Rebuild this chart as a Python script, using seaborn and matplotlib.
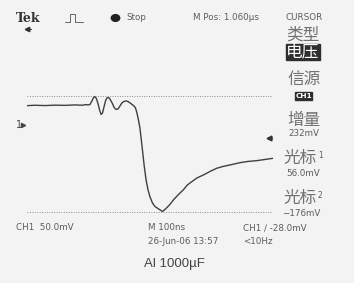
import matplotlib
matplotlib.use("Agg")
import matplotlib.pyplot as plt
import seaborn as sns
import pandas as pd
from matplotlib.lines import Line2D
from matplotlib.patches import Rectangle, Circle

# Captured waveform, CH1 (time in ns, voltage in mV)
time_ns = [560, 592, 633, 674, 714, 755, 784, 800, 808,
           816, 824, 830, 836, 842, 849, 855, 861, 867, 873, 879, 885, 891,
           897, 906, 914, 922, 930, 938, 946, 954, 962, 970, 979, 987, 995,
           1001, 1007, 1013, 1019, 1027, 1036, 1044, 1052, 1060, 1070, 1080,
           1092, 1111, 1125, 1141, 1155, 1174, 1195, 1212, 1230, 1251, 1277,
           1304, 1331, 1357, 1385, 1426, 1458, 1494, 1528, 1561]
volt_mv = [37.5, 38.3, 37.7, 38.5, 38.1, 39.0, 38.4, 39.6, 38.9,
           39.9, 47.0, 53.5, 56.0, 52.0, 41.0, 28.8, 19.8, 22.8, 34.9, 47.0, 53.1, 54.1,
           51.0, 43.0, 33.9, 29.9, 30.9, 36.9, 43.0, 46.0, 47.0, 46.0, 43.0, 39.9, 36.9,
           32.9, 22.8, 8.7, -7.3, -41.6, -82.0, -112.2, -132.4, -146.5, -158.8, -165.8,
           -169.9, -176.0, -169.9, -161.8, -152.7, -142.6, -132.5, -122.5, -115.8, -108.3, -102.3,
           -95.2, -88.8, -85.1, -82.1, -77.5, -75.0, -73.4, -71.0, -68.6]

cursor_mv = [56.0, -176.0]
delta_mv = 232
trigger_mv = -28.0
volts_per_div = "50.0mV"
time_per_div = "100ns"
horiz_pos = "1.060\u00b5s"
capture_date = "26-Jun-06 13:57"
trigger_freq = "<10Hz"
caption = "Al 1000\u00b5F"

BG = "#f3f3f3"
TXT = "#5c5c5c"
CJK_TXT = "#717171"
TRACE = "#3f3f3f"
W, H = 354, 283
SMALL = 6.3

sns.set_style("white")
plt.rcParams["font.family"] = ["Liberation Sans Narrow", "DejaVu Sans"]

fig = plt.figure(figsize=(W / 100, H / 100), dpi=100, facecolor=BG)


def fx(x):
    return x / W


def fy(y):
    return 1 - y / H


def label(x, y, s, size=SMALL, ha="left", color=TXT, **kw):
    fig.text(fx(x), fy(y), s, fontsize=size, ha=ha, va="center", color=color, **kw)


# Screen area: 10 x 8 divisions, 50 mV/div, 100 ns/div
ax = fig.add_axes([27 / W, 1 - 223.4 / H, 246 / W, 198.3 / H])
ax.set_facecolor(BG)
df = pd.DataFrame({"t": time_ns, "v": volt_mv})
sns.lineplot(data=df, x="t", y="v", ax=ax, color=TRACE, lw=1.0)
ax.set_xlim(560, 1560)
ax.set_ylim(-200, 200)
for c in cursor_mv:
    ax.axhline(c, xmax=0.995, color="#8c8c8c", lw=0.7, ls=(0, (1, 1.5)))
ax.axis("off")

# trigger level marker on the right edge
ax.plot([1543], [trigger_mv], marker="<", ms=3.5, color="#333333", clip_on=False)
ax.plot([1543, 1556], [trigger_mv, trigger_mv], color="#333333", lw=0.8, clip_on=False)

# channel 1 ground marker
label(15.5, 124.5, "1", size=7, color="#444444", family=["DejaVu Sans"])
fig.add_artist(Line2D([fx(23)], [fy(124.5)], marker=">", ms=3, color="#444444"))

# header
fig.text(fx(16), fy(18.5), "Tek", fontsize=9, fontweight="bold", family="DejaVu Serif",
         color="#333333", ha="left", va="center")
fig.add_artist(Line2D([fx(26.5)], [fy(29.3)], marker="<", ms=3.2, color="#333333"))
fig.add_artist(Line2D([fx(26.5), fx(31)], [fy(29.3), fy(29.3)], color="#333333", lw=0.8))
px = [65, 70, 70, 75, 75, 83]
py = [22, 22, 14, 14, 22, 22]
fig.add_artist(Line2D([fx(v) for v in px], [fy(v) for v in py], color="#666666", lw=0.7))
fig.add_artist(Circle((fx(115.5), fy(18)), radius=4.2 / W, color="#222222",
                      transform=fig.transFigure))
label(126, 18, "Stop")
label(193, 18, "M Pos: " + horiz_pos)

# side menu
CJK = ["Noto Sans CJK SC", "DejaVu Sans"]
label(286, 17, "CURSOR")
label(303, 35, "类型", size=12, ha="center", family=CJK, color=CJK_TXT, fontweight="light")
fig.add_artist(Rectangle((fx(286), fy(60)), 34 / W, 16 / H, color="#2e2e2e",
                         transform=fig.transFigure))
label(303, 52, "电压", size=12, ha="center", family=CJK, color="white")
label(304, 79, "信源", size=12, ha="center", family=CJK, color=CJK_TXT, fontweight="light")
fig.add_artist(Rectangle((fx(295), fy(100)), 17 / W, 8.5 / H, color="#2e2e2e",
                         transform=fig.transFigure))
label(303.5, 96, "CH1", size=5.3, ha="center", color="white", fontweight="bold")
label(304, 120, "增量", size=12, ha="center", family=CJK, color=CJK_TXT, fontweight="light")
label(303.5, 134, f"{delta_mv}mV", ha="center")
label(283, 158, "光标", size=12, family=CJK, color=CJK_TXT, fontweight="light")
label(318, 156, "1", size=5.5)
label(303.5, 174, f"{cursor_mv[0]:.1f}mV", ha="center")
label(283, 198, "光标", size=12, family=CJK, color=CJK_TXT, fontweight="light")
label(318, 196, "2", size=5.5)
label(301.5, 214, f"\u2212{abs(cursor_mv[1]):.0f}mV", ha="center")

# footer
label(16, 228, "CH1  " + volts_per_div)
label(148, 228, "M " + time_per_div)
label(148, 242, capture_date)
label(243, 228, f"CH1 \u2215 {trigger_mv:.1f}mV")
label(243, 242, trigger_freq)
fig.text(fx(174), fy(264.5), caption, fontsize=9.5, ha="center", va="center",
         color="#444444", family=["Liberation Sans", "DejaVu Sans"])

fig.savefig("out.png", dpi=100, facecolor=BG)
